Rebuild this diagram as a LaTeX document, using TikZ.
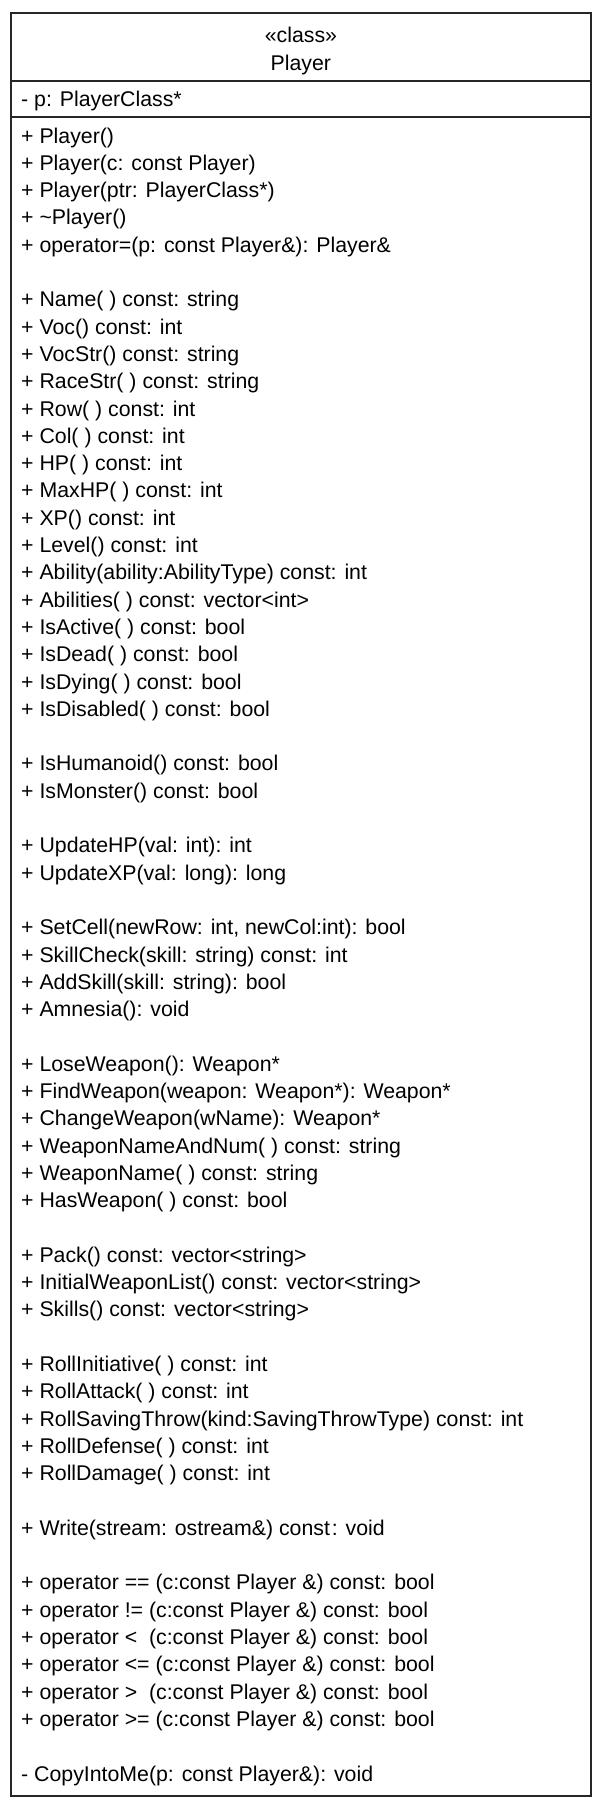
\documentclass[tikz,border=0pt]{standalone}
\usepackage{fontspec}
\setmainfont{Liberation Sans}
\begin{document}
\begin{tikzpicture}[x=1pt,y=-1pt,
  umlline/.style={draw=black!85,line width=1.7pt},
  rowtext/.style={anchor=base west,inner sep=0pt,font=\fontsize{21.3}{25}\selectfont,text=black},
  titletext/.style={anchor=base,inner sep=0pt,font=\fontsize{21.3}{25}\selectfont,text=black}]
\newcommand\umlrow[2]{\node[rowtext] (r#1) at (21,{143+(#1-1)*27.3}) {#2};}
\useasboundingbox (0,0) rectangle (602,1804);
\fill[white] (0,0) rectangle (602,1804);
% class box and compartments
\draw[umlline] (10.7,13.3) rectangle (591,1796);
\draw[umlline] (10.7,81) -- (591,81);
\draw[umlline] (10.7,116.7) -- (591,116.7);
% header
\node[titletext] (stereo) at (300.9,42) {«class»};
\node[titletext] (cname) at (300.9,70.5) {Player};
% attributes
\node[rowtext] (attr) at (21,106.5) {- p: PlayerClass*};
% operations
\umlrow{1}{+ Player()}
\umlrow{2}{+ Player(c: const Player)}
\umlrow{3}{+ Player(ptr: PlayerClass*)}
\umlrow{4}{+ \textasciitilde Player()}
\umlrow{5}{+ operator=(p: const Player\&): Player\&}
\umlrow{7}{+ Name( ) const: string}
\umlrow{8}{+ Voc() const: int}
\umlrow{9}{+ VocStr() const: string}
\umlrow{10}{+ RaceStr( ) const: string}
\umlrow{11}{+ Row( ) const: int}
\umlrow{12}{+ Col( ) const: int}
\umlrow{13}{+ HP( ) const: int}
\umlrow{14}{+ MaxHP( ) const: int}
\umlrow{15}{+ XP() const: int}
\umlrow{16}{+ Level() const: int}
\umlrow{17}{+ Ability(ability:AbilityType) const: int}
\umlrow{18}{+ Abilities( ) const: vector<int>}
\umlrow{19}{+ IsActive( ) const: bool}
\umlrow{20}{+ IsDead( ) const: bool}
\umlrow{21}{+ IsDying( ) const: bool}
\umlrow{22}{+ IsDisabled( ) const: bool}
\umlrow{24}{+ IsHumanoid() const: bool}
\umlrow{25}{+ IsMonster() const: bool}
\umlrow{27}{+ UpdateHP(val: int): int}
\umlrow{28}{+ UpdateXP(val: long): long}
\umlrow{30}{+ SetCell(newRow: int, newCol:int): bool}
\umlrow{31}{+ SkillCheck(skill: string) const: int}
\umlrow{32}{+ AddSkill(skill: string): bool}
\umlrow{33}{+ Amnesia(): void}
\umlrow{35}{+ LoseWeapon(): Weapon*}
\umlrow{36}{+ FindWeapon(weapon: Weapon*): Weapon*}
\umlrow{37}{+ ChangeWeapon(wName): Weapon*}
\umlrow{38}{+ WeaponNameAndNum( ) const: string}
\umlrow{39}{+ WeaponName( ) const: string}
\umlrow{40}{+ HasWeapon( ) const: bool}
\umlrow{42}{+ Pack() const: vector<string>}
\umlrow{43}{+ InitialWeaponList() const: vector<string>}
\umlrow{44}{+ Skills() const: vector<string>}
\umlrow{46}{+ RollInitiative( ) const: int}
\umlrow{47}{+ RollAttack( ) const: int}
\umlrow{48}{+ RollSavingThrow(kind:SavingThrowType) const: int}
\umlrow{49}{+ RollDefense( ) const: int}
\umlrow{50}{+ RollDamage( ) const: int}
\umlrow{52}{+ Write(stream: ostream\&) const\kern2pt: void}
\umlrow{54}{+ operator == (c:const Player \&) const: bool}
\umlrow{55}{+ operator != (c:const Player \&) const: bool}
\umlrow{56}{+ operator < \ (c:const Player \&) const: bool}
\umlrow{57}{+ operator <= (c:const Player \&) const: bool}
\umlrow{58}{+ operator > \ (c:const Player \&) const: bool}
\umlrow{59}{+ operator >= (c:const Player \&) const: bool}
\umlrow{61}{- CopyIntoMe(p: const Player\&): void}
\end{tikzpicture}
\end{document}
